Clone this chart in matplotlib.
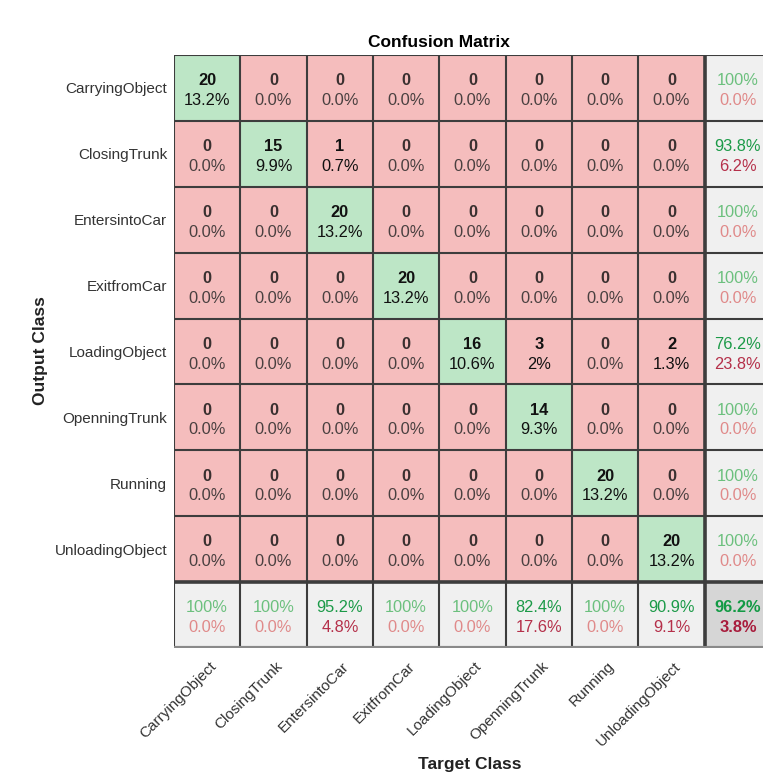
import numpy as np
import matplotlib
matplotlib.use("Agg")
import matplotlib.pyplot as plt
from matplotlib.colors import to_rgb
import matplotlib.transforms as mtransforms

plt.rcParams['font.family'] = ['Liberation Sans', 'DejaVu Sans']

classes = ["CarryingObject", "ClosingTrunk", "EntersintoCar", "ExitfromCar",
           "LoadingObject", "OpenningTrunk", "Running", "UnloadingObject"]

# rows = output class, columns = target class
counts = np.array([
    [20, 0, 0, 0, 0, 0, 0, 0],
    [0, 15, 1, 0, 0, 0, 0, 0],
    [0, 0, 20, 0, 0, 0, 0, 0],
    [0, 0, 0, 20, 0, 0, 0, 0],
    [0, 0, 0, 0, 16, 3, 0, 2],
    [0, 0, 0, 0, 0, 14, 0, 0],
    [0, 0, 0, 0, 0, 0, 20, 0],
    [0, 0, 0, 0, 0, 0, 0, 20],
])
# the picture shows "2%" in this one cell
pct_override = {(4, 5): "2%"}

# summary values
row_acc = [100, 93.8, 100, 100, 76.2, 100, 100, 100]
col_acc = [100, 100, 95.2, 100, 100, 82.4, 100, 90.9]
overall_acc = 96.2

green_bg = "#bde6c6"
red_bg = "#f5bdbd"
sum_bg = "#f0f0f0"
corner_bg = "#d6d6d6"
grid_col = "#3d3d3d"

n = len(classes)
total = counts.sum()

img = np.zeros((n + 1, n + 1, 3))
for i in range(n + 1):
    for j in range(n + 1):
        if i == n and j == n:
            c = corner_bg
        elif i == n or j == n:
            c = sum_bg
        elif i == j:
            c = green_bg
        else:
            c = red_bg
        img[i, j] = to_rgb(c)

fig = plt.figure(figsize=(7.63, 7.76), dpi=100)
ax = fig.add_axes([174 / 763, 1 - 648 / 776, 597 / 763, 593 / 776])
ax.imshow(img, extent=(-0.5, n + 0.5, n + 0.5, -0.5), aspect='auto', interpolation='nearest')

# grid lines, thicker between matrix and summary
for k in range(n + 2):
    lw = 2.6 if k == n else 1.5
    ax.axvline(k - 0.5, color=grid_col, lw=lw)
    ax.axhline(k - 0.5, color=grid_col, lw=lw)
ax.axhline(n + 0.5, color="#8a8a8a", lw=3.0)

def fmt(v):
    s = f"{v:.1f}%"
    return "100%" if s == "100.0%" else s

fs = 11.8
for i in range(n):
    for j in range(n):
        v = counts[i, j]
        p = pct_override.get((i, j), f"{100 * v / total:.1f}%")
        tc = "#111111" if v > 0 else "#3a3030"
        pc = "#111111" if v > 0 else "#4a4040"
        ax.text(j, i - 0.11, str(v), ha='center', va='center', fontsize=fs,
                fontweight='bold', color=tc)
        ax.text(j, i + 0.19, p, ha='center', va='center', fontsize=fs, color=pc)

def summary(x, y, acc, bold=False):
    good = acc >= 99.95
    gc = "#6cc07e" if good else "#1c9a48"
    rc = "#e08a8a" if good else "#b5304a"
    fw = 'bold' if bold else 'normal'
    if bold:
        gc, rc = "#139a45", "#a81c3c"
    ax.text(x, y - 0.11, fmt(acc), ha='center', va='center', fontsize=fs,
            color=gc, fontweight=fw)
    ax.text(x, y + 0.19, fmt(100 - acc), ha='center', va='center', fontsize=fs,
            color=rc, fontweight=fw)

for i in range(n):
    summary(n, i, row_acc[i])
for j in range(n):
    summary(j, n, col_acc[j])
summary(n, n, overall_acc, bold=True)

ax.set_xlim(-0.5, n + 0.5)
ax.set_ylim(n + 0.5, -0.5)
ax.set_xticks(range(n))
ax.set_yticks(range(n))
ax.set_xticklabels(classes, rotation=45, ha='right', va='top', fontsize=11, color='#333333')
ax.set_yticklabels(classes, fontsize=11, color='#333333')
ax.tick_params(length=0)
ax.tick_params(axis='x', pad=8)
ax.tick_params(axis='y', pad=5)
offset = mtransforms.ScaledTranslation(12 / 100, 0, fig.dpi_scale_trans)
for lab in ax.get_xticklabels():
    lab.set_transform(lab.get_transform() + offset)
for s in ax.spines.values():
    s.set_visible(False)

ax.set_title("Confusion Matrix", fontsize=12.5, fontweight='bold', pad=6, x=(n / 2) / (n + 1))
fig.text(470 / 763, 1 - 765 / 776, "Target Class", ha='center', va='center',
         fontsize=12.5, fontweight='bold', color='#222222')
fig.text(40 / 763, 1 - 351 / 776, "Output Class", ha='center', va='center',
         rotation=90, fontsize=12.5, fontweight='bold', color='#222222')

fig.savefig("out.png", dpi=100)
